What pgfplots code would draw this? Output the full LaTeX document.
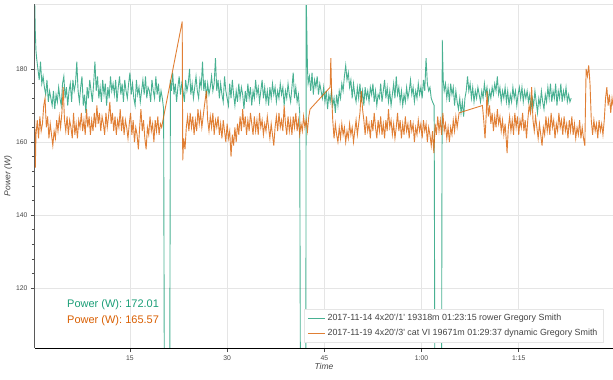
\documentclass[border=0pt]{standalone}
\usepackage{pgfplots}
\usepackage{pgfplotstable}
\pgfplotsset{compat=1.18}
\usepackage{fontspec}
\setmainfont{Liberation Sans}
\definecolor{cgreen}{HTML}{1B9E77}
\definecolor{corange}{HTML}{D95F02}
\definecolor{tickc}{HTML}{444444}
\begin{document}
\pgfplotstableread{
t p
0.3 199
0.4 190
0.5 185
0.6 183
0.8 180
1.0 177
1.2 182
1.4 176
1.6 178
1.8 175
2.0 173
2.2 177
2.4 171
2.6 174
2.8 172
3.0 170
3.2 174
3.4 169
3.6 173
3.8 171
4.0 175
4.2 172
4.4 170
4.6 176
4.8 178
5.0 172
5.2 175
5.4 170
5.6 174
5.8 176
6.0 171
6.2 177
6.4 174
6.6 176
6.8 182
7.0 174
7.2 171
7.4 175
7.6 178
7.8 170
8.0 173
8.2 168
8.4 175
8.6 172
8.8 177
9.0 174
9.2 171
9.4 176
9.6 182
9.8 174
10.0 178
10.2 172
10.4 175
10.6 171
10.8 177
11.0 173
11.2 176
11.4 170
11.6 175
11.8 172
12.0 178
12.2 174
12.4 176
12.6 173
12.8 177
13.0 171
13.2 175
13.4 178
13.6 173
13.8 176
14.0 171
14.2 177
14.4 174
14.6 172
14.8 176
15.0 179
15.2 173
15.4 176
15.6 172
15.8 170
16.0 177
16.2 173
16.4 175
16.6 171
16.8 174
17.0 177
17.2 173
17.4 178
17.6 172
17.8 175
18.0 174
18.2 171
18.4 177
18.6 174
18.8 172
19.0 178
19.2 173
19.4 176
19.6 171
19.8 174
20.0 172
20.2 169
20.3 100
21.15 100
21.25 177
21.4 174
21.6 179
21.8 173
22.0 176
22.2 171
22.4 175
22.6 178
22.8 173
23.0 176
23.2 174
23.4 171
23.6 177
23.8 174
24.0 176
24.2 180
24.4 173
24.6 176
24.8 172
25.0 175
25.2 178
25.4 174
25.6 172
25.8 177
26.0 175
26.2 182
26.4 174
26.6 177
26.8 172
27.0 176
27.2 173
27.4 175
27.6 178
27.8 174
28.0 176
28.2 183
28.4 174
28.6 177
28.8 172
29.0 176
29.2 173
29.4 171
29.6 178
29.8 174
30.0 172
30.2 170
30.4 176
30.6 172
30.8 177
31.0 173
31.2 170
31.4 174
31.6 171
31.8 176
32.0 172
32.2 175
32.4 173
32.6 169
32.8 174
33.0 171
33.2 176
33.4 172
33.6 175
33.8 170
34.0 174
34.2 172
34.4 177
34.6 173
34.8 175
35.0 171
35.2 174
35.4 177
35.6 172
35.8 175
36.0 171
36.2 174
36.4 170
36.6 175
36.8 172
37.0 176
37.2 173
37.4 175
37.6 171
37.8 174
38.0 172
38.2 176
38.4 173
38.6 175
38.8 170
39.0 174
39.2 172
39.4 176
39.6 173
39.8 171
40.0 175
40.2 179
40.4 172
40.6 175
40.8 171
41.0 173
41.2 168
41.3 100
42.15 100
42.2 200
42.4 180
42.5 176
42.7 178
42.9 174
43.1 179
43.3 173
43.5 177
43.7 175
43.9 178
44.1 173
44.3 176
44.5 174
44.7 172
44.9 175
45.1 171
45.3 174
45.5 169
45.7 173
45.9 171
46.1 174
46.3 170
46.5 172
46.7 168
46.9 173
47.1 170
47.3 174
47.5 172
47.7 176
47.9 174
48.1 178
48.3 181
48.5 177
48.7 179
48.9 175
49.1 177
49.3 172
49.5 176
49.7 173
49.9 171
50.1 175
50.3 172
50.5 176
50.7 171
50.9 174
51.1 170
51.3 175
51.5 172
51.7 174
51.9 171
52.1 175
52.3 173
52.5 176
52.7 171
52.9 174
53.1 170
53.3 173
53.5 172
53.7 176
53.9 171
54.1 174
54.3 177
54.5 172
54.7 175
54.9 171
55.1 174
55.3 170
55.5 173
55.7 176
55.9 172
56.1 178
56.3 173
56.5 175
56.7 171
56.9 174
57.1 170
57.3 173
57.5 171
57.7 175
57.9 172
58.1 174
58.3 177
58.5 173
58.7 175
58.9 171
59.1 174
59.3 172
59.5 176
59.7 173
59.9 175
60.1 172
60.3 177
60.5 174
60.7 183
60.9 176
61.1 174
61.3 175
61.5 172
61.7 171
61.95 170
62.05 100
63.1 100
63.2 188
63.35 177
63.5 174
63.7 176
63.9 172
64.1 175
64.3 171
64.5 176
64.7 173
64.9 175
65.1 170
65.3 174
65.5 171
65.7 169
65.9 172
66.1 168
66.3 171
66.5 167
66.7 172
66.9 174
67.1 178
67.3 174
67.5 176
67.7 172
67.9 175
68.1 171
68.3 174
68.5 172
68.7 175
68.9 173
69.1 171
69.3 174
69.5 172
69.7 176
69.9 173
70.1 175
70.3 171
70.5 174
70.7 172
70.9 175
71.1 173
71.3 176
71.5 174
71.7 178
71.9 173
72.1 175
72.3 171
72.5 174
72.7 172
72.9 175
73.1 171
73.3 174
73.5 170
73.7 173
73.9 171
74.1 175
74.3 172
74.5 174
74.7 170
74.9 173
75.1 175
75.3 172
75.5 175
75.7 171
75.9 174
76.1 172
76.3 174
76.5 171
76.7 173
76.9 169
77.1 172
77.3 170
77.5 174
77.7 171
77.9 168
78.1 172
78.3 170
78.5 174
78.7 171
78.9 169
79.1 173
79.3 171
79.5 175
79.7 172
79.9 176
80.1 171
80.3 174
80.5 172
80.7 176
80.9 170
81.1 174
81.3 172
81.5 176
81.7 171
81.9 174
82.1 172
82.3 175
82.5 171
82.7 173
82.9 171
83.1 172
}\greendata
\pgfplotstableread{
t p
0.3 166
0.4 153
0.5 162
0.7 166
0.9 161
1.1 167
1.3 163
1.5 165
1.7 170
1.9 172
2.1 164
2.3 167
2.5 161
2.7 165
2.9 162
3.1 159
3.3 163
3.5 161
3.7 166
3.9 163
4.1 167
4.3 164
4.5 168
4.7 175
4.9 166
5.1 163
5.3 167
5.5 162
5.7 166
5.9 164
6.1 161
6.3 168
6.5 162
6.7 165
6.9 161
7.1 166
7.3 164
7.5 168
7.7 163
7.9 166
8.1 162
8.3 169
8.5 164
8.7 167
8.9 162
9.1 166
9.3 163
9.5 168
9.7 164
9.9 170
10.1 165
10.3 168
10.5 163
10.7 167
10.9 165
11.1 162
11.3 168
11.5 164
11.7 167
11.9 171
12.1 165
12.3 168
12.5 163
12.7 167
12.9 162
13.1 166
13.3 164
13.5 169
13.7 163
13.9 167
14.1 162
14.3 166
14.5 164
14.7 161
14.9 165
15.1 168
15.3 162
15.5 166
15.7 160
15.9 164
16.1 162
16.3 158
16.5 164
16.7 169
16.9 163
17.1 166
17.3 161
17.5 158
17.7 164
17.9 162
18.1 167
18.3 163
18.5 165
18.7 160
18.9 166
19.1 163
19.3 167
19.5 162
19.7 165
19.9 164
20.1 166
23.07 193
23.15 155
23.3 161
23.5 158
23.7 164
23.9 167
24.1 163
24.3 168
24.5 164
24.7 167
24.9 162
25.1 166
25.3 163
25.5 169
25.7 165
25.9 168
26.1 164
26.3 167
26.5 170
26.8 174
27.0 166
27.2 163
27.4 167
27.6 164
27.8 168
28.0 162
28.2 166
28.4 164
28.6 167
28.8 162
29.0 165
29.2 161
29.4 166
29.6 163
29.8 160
30.0 165
30.2 161
30.4 163
30.6 156
30.8 162
31.0 159
31.2 164
31.4 160
31.6 165
31.8 162
32.0 167
32.2 163
32.4 169
32.6 164
32.8 167
33.0 162
33.2 166
33.4 163
33.6 168
33.8 165
34.0 162
34.2 167
34.4 163
34.6 166
34.8 162
35.0 168
35.2 164
35.4 166
35.6 162
35.8 165
36.0 163
36.2 167
36.4 164
36.6 161
36.8 165
37.0 162
37.2 159
37.4 164
37.6 167
37.8 163
38.0 168
38.2 164
38.4 166
38.6 163
38.8 170
39.0 165
39.2 162
39.4 167
39.6 163
39.8 166
40.0 162
40.2 167
40.4 164
40.6 168
40.8 163
41.0 166
41.2 162
41.4 165
41.6 163
41.8 167
42.0 164
42.2 166
42.4 163
42.6 167
42.8 169
45.9 175
46.0 183
46.15 172
46.3 166
46.5 161
46.7 165
46.9 162
47.1 160
47.3 164
47.5 161
47.7 165
47.9 162
48.1 164
48.3 160
48.5 163
48.7 161
48.9 165
49.1 162
49.3 164
49.5 160
49.7 163
49.9 166
50.1 162
50.3 165
50.5 168
50.7 174
50.9 169
51.1 166
51.3 162
51.5 167
51.7 163
51.9 165
52.1 161
52.3 166
52.5 163
52.7 168
52.9 164
53.1 161
53.3 166
53.5 163
53.7 167
53.9 162
54.1 165
54.3 161
54.5 166
54.7 163
54.9 169
55.1 164
55.3 166
55.5 162
55.7 165
55.9 161
56.1 164
56.3 168
56.5 163
56.7 166
56.9 161
57.1 165
57.3 162
57.5 167
57.7 163
57.9 165
58.1 161
58.3 166
58.5 163
58.7 165
58.9 160
59.1 164
59.3 162
59.5 166
59.7 163
59.9 165
60.1 161
60.3 166
60.5 163
60.7 165
60.9 160
61.1 164
61.3 162
61.5 159
61.7 163
61.9 157
62.1 165
62.3 162
62.5 167
62.7 163
62.9 166
63.1 162
63.3 168
63.5 163
63.7 165
63.9 161
64.1 164
64.3 160
64.5 164
64.7 162
64.9 166
65.1 163
65.3 167
65.5 164
65.8 168
69.4 170
69.6 166
69.8 161
70.0 168
70.1 174
70.3 167
70.5 170
70.7 165
70.9 168
71.1 163
71.3 167
71.5 164
71.7 169
71.9 165
72.1 167
72.3 163
72.5 166
72.7 162
72.9 165
73.1 160
73.2 157
73.4 164
73.6 167
73.8 163
74.0 166
74.2 162
74.4 168
74.6 164
74.8 167
75.0 162
75.2 166
75.4 164
75.6 168
75.8 163
76.0 166
76.2 161
76.4 166
76.6 170
76.8 168
77.0 175
77.2 166
77.4 163
77.6 167
77.8 164
78.0 161
78.2 165
78.4 162
78.6 159
78.8 164
79.0 162
79.2 167
79.4 163
79.6 166
79.8 162
80.0 168
80.2 164
80.4 166
80.6 161
80.8 165
81.0 163
81.2 168
81.4 164
81.6 166
81.8 162
82.0 167
82.2 163
82.4 165
82.6 161
82.8 166
83.0 163
83.2 167
83.4 162
83.6 165
83.8 161
84.0 164
84.2 162
84.4 166
84.6 161
84.8 164
85.0 161
85.2 159
85.4 180
85.6 178
85.8 181
86.0 176
86.2 166
86.4 162
86.6 166
86.8 163
87.0 165
87.2 161
87.4 166
87.6 163
87.8 165
88.0 162
88.2 166
88.4 172
88.6 175
88.8 170
89.0 173
89.2 168
89.4 172
89.55 170
}\orangedata
\begin{tikzpicture}
\useasboundingbox (-35pt,-32pt) rectangle (578pt,348pt);
\begin{axis}[
  scale only axis,
  width=578pt, height=344pt,
  xmin=0.35, xmax=89.55,
  ymin=103.6, ymax=197.8,
  axis x line*=bottom,
  axis y line*=left,
  x axis line style={black, line width=0.8pt, -},
  y axis line style={black!65, line width=1pt, -},
  xtick={15,30,45,60,75},
  xticklabels={15,30,45,1:00,1:15},
  ytick={120,140,160,180},
  minor y tick num=4,
  tick align=outside,
  major tick length=4pt,
  minor tick length=3pt,
  tick style={black!70, line width=0.6pt},
  grid=major,
  major grid style={black!10, line width=0.6pt},
  ticklabel style={font=\fontsize{6.8}{8}\selectfont, text=tickc},
  /pgf/number format/assume math mode=true,
  xlabel={\itshape Time},
  ylabel={\itshape Power (W)},
  label style={font=\fontsize{8.5}{10}\selectfont, text=tickc},
  xlabel style={yshift=4pt},
  ylabel style={yshift=-3pt},
  legend style={at={(rel axis cs:0.983,0.015)}, anchor=south east,
    draw=black!10, font=\fontsize{8.9}{10}\selectfont,
    cells={anchor=west}, inner sep=3.5pt, row sep=3pt},
  legend cell align=left,
  after end axis/.code={
    \draw[black!10, line width=0.6pt] (rel axis cs:0,1) -- (rel axis cs:1,1);
  },
]
\addplot[cgreen, line width=0.9pt, opacity=0.8] table[x=t, y=p] {\greendata};
\addlegendentry{\textcolor{tickc}{2017-11-14 4x20\textquotesingle/1\textquotesingle\ 19318m 01:23:15 rower Gregory Smith}}
\addplot[corange, line width=0.9pt, opacity=0.8] table[x=t, y=p] {\orangedata};
\addlegendentry{\textcolor{tickc}{2017-11-19 4x20\textquotesingle/3\textquotesingle\ cat VI 19671m 01:29:37 dynamic Gregory Smith}}
\node[anchor=west, text=cgreen, font=\fontsize{11}{13}\selectfont, inner sep=0pt] at (rel axis cs:0.0554,0.125) {Power (W): 172.01};
\node[anchor=west, text=corange, font=\fontsize{11}{13}\selectfont, inner sep=0pt] at (rel axis cs:0.0554,0.0785) {Power (W): 165.57};
\end{axis}
\end{tikzpicture}
\end{document}
